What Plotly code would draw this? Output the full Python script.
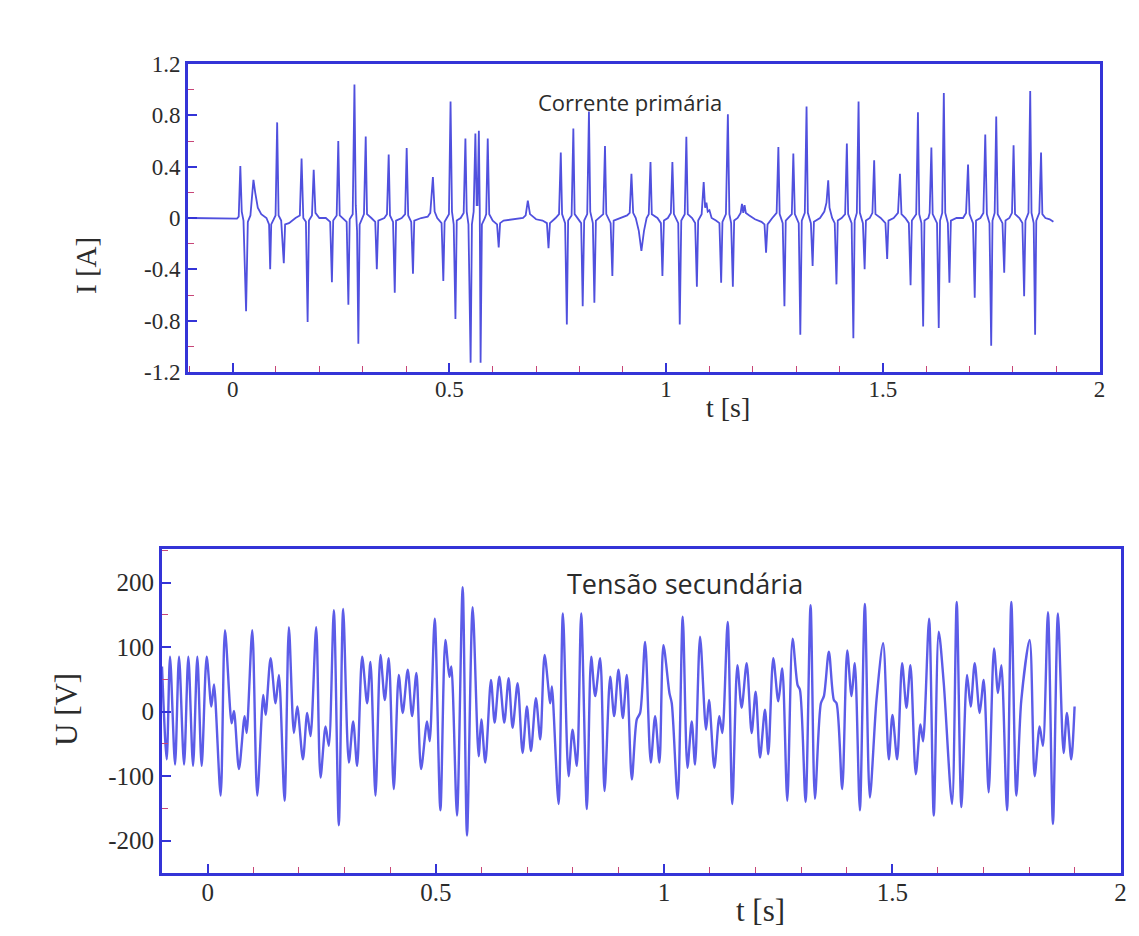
import plotly.graph_objects as go

# ---------------- data ----------------
# primary current I [A] versus time t [s]
t_current = [
    -0.100, 0.010, 0.014, 0.0177, 0.021, 0.025, 0.031, 0.035,
    0.041, 0.048, 0.052, 0.058, 0.066, 0.078, 0.084, 0.0866, 0.089, 0.095,
    0.099, 0.1027, 0.106, 0.112, 0.118, 0.121, 0.130, 0.145,
    0.155, 0.159, 0.163, 0.169, 0.173, 0.176,
    0.183, 0.187, 0.191, 0.200, 0.215,
    0.225, 0.229, 0.232, 0.240, 0.2437, 0.247,
    0.263, 0.267, 0.270, 0.277, 0.281, 0.284, 0.287, 0.290, 0.293, 0.299,
    0.303, 0.307, 0.310, 0.320,
    0.329, 0.3326, 0.336, 0.350, 0.356, 0.360, 0.363, 0.370, 0.374, 0.377,
    0.390, 0.398, 0.4015, 0.405, 0.412, 0.416, 0.419, 0.435, 0.450,
    0.456, 0.462, 0.466, 0.472, 0.482, 0.486, 0.489, 0.495, 0.499, 0.5027,
    0.506, 0.510, 0.514, 0.517, 0.526, 0.533, 0.537, 0.540, 0.544, 0.549,
    0.552, 0.556, 0.560, 0.563, 0.565, 0.568, 0.570, 0.572, 0.575, 0.582,
    0.585, 0.5885, 0.592, 0.600, 0.610, 0.6138, 0.617, 0.625, 0.650, 0.670,
    0.676, 0.681, 0.686, 0.700, 0.715,
    0.725, 0.7287, 0.732, 0.745, 0.753, 0.757, 0.760, 0.767, 0.771, 0.774,
    0.782, 0.786, 0.789, 0.804, 0.8076, 0.811, 0.818, 0.822, 0.825, 0.831,
    0.8345, 0.838, 0.845, 0.855, 0.859, 0.862, 0.872, 0.876, 0.879, 0.895,
    0.910, 0.916, 0.920, 0.924, 0.930, 0.937, 0.943, 0.949, 0.955, 0.960,
    0.964, 0.967, 0.980, 0.988, 0.9915, 0.995, 1.004, 1.011, 1.0145, 1.018,
    1.028, 1.0315, 1.035, 1.043, 1.0467, 1.050, 1.060, 1.067, 1.071, 1.074,
    1.082, 1.0867, 1.090, 1.093, 1.096, 1.100, 1.105, 1.115, 1.123, 1.127,
    1.130, 1.138, 1.1425, 1.146, 1.150, 1.154, 1.157, 1.165, 1.172, 1.175,
    1.178, 1.181, 1.184, 1.192, 1.205, 1.220, 1.227, 1.2306, 1.234, 1.245,
    1.255, 1.259, 1.262, 1.269, 1.273, 1.276, 1.290, 1.2935, 1.297, 1.306,
    1.3096, 1.313, 1.320, 1.324, 1.327, 1.334, 1.338, 1.341, 1.355, 1.365,
    1.370, 1.374, 1.377, 1.383, 1.389, 1.393, 1.396, 1.405, 1.413, 1.417,
    1.420, 1.428, 1.432, 1.435, 1.440, 1.444, 1.447, 1.454, 1.458, 1.461,
    1.470, 1.476, 1.480, 1.483, 1.495, 1.506, 1.510, 1.513, 1.525, 1.535,
    1.5395, 1.543, 1.552, 1.560, 1.564, 1.567, 1.577, 1.581, 1.584, 1.589,
    1.593, 1.596, 1.605, 1.608, 1.612, 1.615, 1.625, 1.629, 1.632, 1.637,
    1.6407, 1.644, 1.650, 1.6536, 1.657, 1.670, 1.685, 1.692, 1.6966, 1.700,
    1.708, 1.712, 1.715, 1.725, 1.732, 1.7363, 1.740, 1.746, 1.750, 1.753,
    1.758, 1.7616, 1.765, 1.776, 1.780, 1.783, 1.792, 1.798, 1.8016, 1.805,
    1.815, 1.822, 1.826, 1.829, 1.836, 1.840, 1.843, 1.848, 1.8513, 1.854,
    1.861, 1.865, 1.868, 1.875, 1.885, 1.8935,
]
i_current = [
    0.0, -0.005, 0.01, 0.405, 0.05, -0.02, -0.727, -0.03,
    0.02, 0.298, 0.20, 0.08, 0.03, 0.0, -0.05, -0.40, -0.05, 0.0,
    0.02, 0.745, 0.02, -0.02, -0.353, -0.05, -0.04, 0.0,
    0.02, 0.463, 0.0, -0.03, -0.81, -0.02,
    0.02, 0.376, 0.04, 0.0, 0.0,
    -0.03, -0.50, -0.02, 0.02, 0.60, 0.02,
    -0.03, -0.675, -0.01, 0.03, 1.04, 0.10, -0.10, -0.98, -0.05, 0.0,
    0.03, 0.635, 0.03, 0.0,
    -0.03, -0.40, -0.02, 0.0, 0.03, 0.494, 0.02, -0.03, -0.583, -0.02,
    0.0, 0.03, 0.546, 0.02, -0.03, -0.434, -0.02, 0.0, 0.01,
    0.04, 0.319, 0.05, 0.0, -0.04, -0.49, -0.03, 0.0, 0.03, 0.907,
    0.05, -0.05, -0.787, -0.02, 0.0, 0.04, 0.62, 0.05, -0.05, -1.127,
    -0.05, 0.05, 0.659, 0.10, 0.10, 0.68, 0.10, -1.127, -0.05, 0.0,
    0.03, 0.62, 0.03, -0.02, -0.05, -0.23, -0.04, -0.02, -0.01, 0.0,
    0.02, 0.136, 0.03, -0.01, -0.02,
    -0.04, -0.235, -0.04, 0.0, 0.03, 0.51, 0.03, -0.04, -0.83, -0.02,
    0.02, 0.698, 0.03, -0.04, -0.688, -0.02, 0.03, 0.83, 0.05, -0.04,
    -0.66, -0.02, 0.0, 0.03, 0.56, 0.03, -0.04, -0.452, -0.02, 0.0,
    0.02, 0.04, 0.345, 0.04, 0.0, -0.10, -0.256, -0.10, 0.0, 0.03,
    0.437, 0.03, 0.0, -0.04, -0.452, -0.02, 0.0, 0.04, 0.437, 0.03,
    -0.04, -0.83, -0.02, 0.03, 0.633, 0.03, 0.0, -0.04, -0.536, -0.02,
    0.03, 0.28, 0.08, 0.12, 0.05, 0.06, 0.0, -0.02, -0.04, -0.505,
    -0.03, 0.03, 0.808, 0.03, -0.04, -0.536, -0.02, 0.0, 0.04, 0.11,
    0.04, 0.10, 0.04, 0.02, -0.01, -0.03, -0.05, -0.27, -0.05, 0.0,
    0.04, 0.554, 0.03, -0.04, -0.688, -0.02, 0.03, 0.502, 0.03, -0.04,
    -0.91, -0.02, 0.04, 0.868, 0.04, -0.04, -0.374, -0.03, 0.0, 0.05,
    0.12, 0.293, 0.08, 0.0, -0.04, -0.517, -0.02, 0.0, 0.03, 0.58,
    0.03, -0.04, -0.936, -0.02, 0.04, 0.907, 0.04, -0.04, -0.40, -0.02,
    0.0, 0.04, 0.45, 0.03, 0.0, -0.04, -0.32, -0.02, 0.0, 0.04,
    0.345, 0.03, 0.0, -0.04, -0.523, -0.02, 0.03, 0.823, 0.03, -0.04,
    -0.845, -0.02, 0.0, 0.04, 0.549, 0.03, -0.04, -0.857, -0.02, 0.04,
    0.973, 0.04, -0.04, -0.505, -0.02, 0.0, 0.0, 0.04, 0.416, 0.03,
    -0.04, -0.622, -0.02, 0.0, 0.04, 0.651, 0.03, -0.04, -0.996, -0.02,
    0.04, 0.79, 0.03, -0.04, -0.426, -0.02, 0.0, 0.04, 0.567, 0.03,
    0.0, -0.04, -0.609, -0.02, 0.04, 0.99, 0.04, -0.04, -0.91, -0.02,
    0.04, 0.51, 0.03, 0.0, -0.01, -0.03,
]

# secondary voltage U [V] versus time t [s] (turning points)
t_voltage = [
    -0.100, -0.0897, -0.0824, -0.0714, -0.0627, -0.0517, -0.0423, -0.0320,
    -0.0226, -0.0131, -0.0021, 0.0081, 0.0139, 0.0285, 0.0380, 0.0526,
    0.0577, 0.0686, 0.0810, 0.0854, 0.0978, 0.1087, 0.1219, 0.1270,
    0.1379, 0.1488, 0.1561, 0.1685, 0.1780, 0.1890, 0.1963, 0.2087,
    0.2181, 0.2254, 0.2378, 0.2473, 0.2583, 0.2655, 0.2765, 0.2874,
    0.2969, 0.3093, 0.3188, 0.3275, 0.3385, 0.3494, 0.3567, 0.3677,
    0.3786, 0.3881, 0.3968, 0.4078,
    0.4187, 0.4274, 0.4384, 0.4479, 0.4574, 0.4676, 0.4807, 0.4865,
    0.4975, 0.5099, 0.5208, 0.5296, 0.5339, 0.5463, 0.5587, 0.5682,
    0.5806, 0.5937, 0.5996, 0.6083, 0.6207, 0.6288, 0.6390, 0.6499,
    0.6594, 0.6681, 0.6791, 0.6900, 0.6995, 0.7083, 0.7192, 0.7287,
    0.7382, 0.7506, 0.7542, 0.7688, 0.7783, 0.7907, 0.7994, 0.8089,
    0.8184, 0.8308, 0.8403, 0.8490, 0.8600, 0.8695, 0.8819, 0.8906,
    0.9001, 0.9096, 0.9183, 0.9293,
    0.9402, 0.9475, 0.9584, 0.9708, 0.9803, 0.9898, 0.9985, 1.0117,
    1.0168, 1.0299, 1.0408, 1.0511, 1.0605, 1.0678, 1.0788, 1.0919,
    1.0985, 1.1101, 1.1211, 1.1276, 1.1393, 1.1495, 1.1605, 1.1699,
    1.1809, 1.1918, 1.2006, 1.2101, 1.2210, 1.2283, 1.2392, 1.2502,
    1.2589, 1.2699, 1.2815, 1.2925, 1.2976, 1.3100, 1.3209, 1.3304,
    1.3435, 1.3501, 1.3610, 1.3720, 1.3778, 1.3902, 1.4012, 1.4106,
    1.4179, 1.4289, 1.4398,
    1.4507, 1.4653, 1.4799, 1.4923, 1.5003, 1.5106, 1.5215, 1.5310,
    1.5397, 1.5514, 1.5616, 1.5674, 1.5806, 1.5908, 1.6017, 1.6127,
    1.6309, 1.6411, 1.6513, 1.6637, 1.6717, 1.6805, 1.6914, 1.7002,
    1.7111, 1.7228, 1.7316, 1.7389, 1.7513, 1.7607, 1.7717, 1.7826,
    1.8009, 1.8118, 1.8227, 1.8300, 1.8410, 1.8519, 1.8628, 1.8752,
    1.8825, 1.8920, 1.8993,
]
u_voltage = [
    70, -74, 85, -82, 85, -82, 85, -84,
    85, -84, 85, 8, 42, -130, 126, -18,
    1, -89, -7, -33, 126, -130, 26, -5,
    83, 13, 57, -138, 131, -33, 8, -74,
    -2, -38, 131, -102, -23, -53, 157, -176,
    159, -79, -15, -84, 85, 13, 77, -130,
    88, 18, 83, -120,
    57, -2, 65, -7, 60, -89, -15, -46,
    144, -153, 111, 54, 70, -161, 193, -192,
    162, -69, -12, -79, 49, -17, 54, -17,
    52, -25, 44, -64, 8, -61, 21, -43,
    88, 13, 39, -143, 152, -100, -28, -84,
    152, -151, 85, 24, 83, -123, 54, -7,
    65, -10, 57, -105,
    -12, -2, 108, -79, -7, -79, 103, 29,
    13, -135, 147, -87, -15, -82, 116, -28,
    18, -87, -7, -33, 139, -143, 72, 6,
    75, -33, 31, -71, 3, -66, 83, 16,
    67, -138, 113, 41, 34, -140, 165, -135,
    13, 24, 93, 18, 13, -120, 95, 24,
    75, -153, 167,
    -133, 18, 106, -74, -5, -74, 75, 6,
    72, -97, -20, -46, 144, -161, 124, 44,
    -143, 170, -148, 57, 8, 75, -2, 49,
    -125, 98, 29, 72, -153, 170, -130, 18,
    111, -100, -23, -53, 154, -174, 152, -64,
    -2, -74, 8,
]

# axis ticks and labels
t_ticks = [0, 0.5, 1, 1.5, 2]
t_ticklabels = ["0", "0.5", "1", "1.5", "2"]
i_ticks = [-1.2, -0.8, -0.4, 0, 0.4, 0.8, 1.2]
i_ticklabels = ["-1.2", "-0.8", "-0.4", "0", "0.4", "0.8", "1.2"]
u_ticks = [-200, -100, 0, 100, 200]
u_ticklabels = ["-200", "-100", "0", "100", "200"]

title_top = "Corrente primária"
title_bottom = "Tensão secundária"

# ---------------- styling ----------------
WIN_W, WIN_H = 1139, 936
PAD = 8                      # default page margin around the plot div
W, H = WIN_W - 2 * PAD, WIN_H - 2 * PAD
FRAME = "rgb(52,52,215)"
MINOR = "rgb(200,70,120)"
LINE_TOP = "rgb(80,80,222)"
LINE_BOT = "rgb(92,92,232)"
TXT = "#2b2b2b"
SERIF = "Liberation Serif"
SANS = "Open Sans"


def fx(p):
    return (p - PAD) / W


def fy(p):
    return 1 - (p - PAD) / H


def axis(tickvals, ticktext, rng, dom, minor_dtick, size, standoff):
    return dict(
        domain=dom, range=rng, tickmode="array", tickvals=tickvals,
        ticktext=ticktext, showline=True, mirror=True, linecolor=FRAME,
        linewidth=3, showgrid=False, zeroline=False, ticks="inside",
        ticklen=9, tickwidth=1.5, tickcolor=FRAME, automargin=False,
        ticklabelstandoff=standoff,
        tickfont=dict(family=SERIF, size=size, color=TXT),
        minor=dict(tickmode="linear", tick0=0, dtick=minor_dtick,
                   ticks="inside", ticklen=6, tickwidth=1.3,
                   tickcolor=MINOR, showgrid=False),
        fixedrange=True,
    )


def label(text, x, y, family, size, angle=0):
    return dict(text=text, x=fx(x), y=fy(y), xref="paper", yref="paper",
                xanchor="center", yanchor="middle", textangle=angle,
                showarrow=False, font=dict(family=family, size=size, color=TXT))


fig = go.Figure()
fig.add_trace(go.Scatter(
    x=t_current, y=i_current, mode="lines", xaxis="x", yaxis="y",
    line=dict(color=LINE_TOP, width=1.8), hoverinfo="skip", showlegend=False,
))
fig.add_trace(go.Scatter(
    x=t_voltage, y=u_voltage, mode="lines", xaxis="x2", yaxis="y2",
    line=dict(color=LINE_BOT, width=2.4, shape="spline", smoothing=0.8),
    hoverinfo="skip", showlegend=False,
))

fig.update_layout(
    width=W, height=H, template="none",
    paper_bgcolor="white", plot_bgcolor="white",
    margin=dict(l=0, r=0, t=0, b=0, autoexpand=False),
    xaxis=axis(t_ticks, t_ticklabels, [-0.103, 2.001],
               [fx(188), fx(1100)], 0.1, 23, -6),
    yaxis=dict(axis(i_ticks, i_ticklabels, [-1.2, 1.2],
                    [fy(372), fy(64)], 0.2, 23, 0), anchor="x"),
    xaxis2=dict(axis(t_ticks, t_ticklabels, [-0.1, 2.001],
                     [fx(162), fx(1121)], 0.1, 25, -5), anchor="y2"),
    yaxis2=dict(axis(u_ticks, u_ticklabels, [-250, 252],
                     [fy(873), fy(549)], 50, 25, 0), anchor="x2"),
    annotations=[
        label(title_top, 630, 102, SANS, 22),
        label(title_bottom, 685, 583, SANS, 27),
        label("I [A]", 86, 266, SERIF, 29, -90),
        label("U [V]", 66, 710, SERIF, 31, -90),
        label("t [s]", 728, 407, SERIF, 28, 0),
        label("t [s]", 760, 910, SERIF, 31, 0),
    ],
)

fig.write_html("out.html")
